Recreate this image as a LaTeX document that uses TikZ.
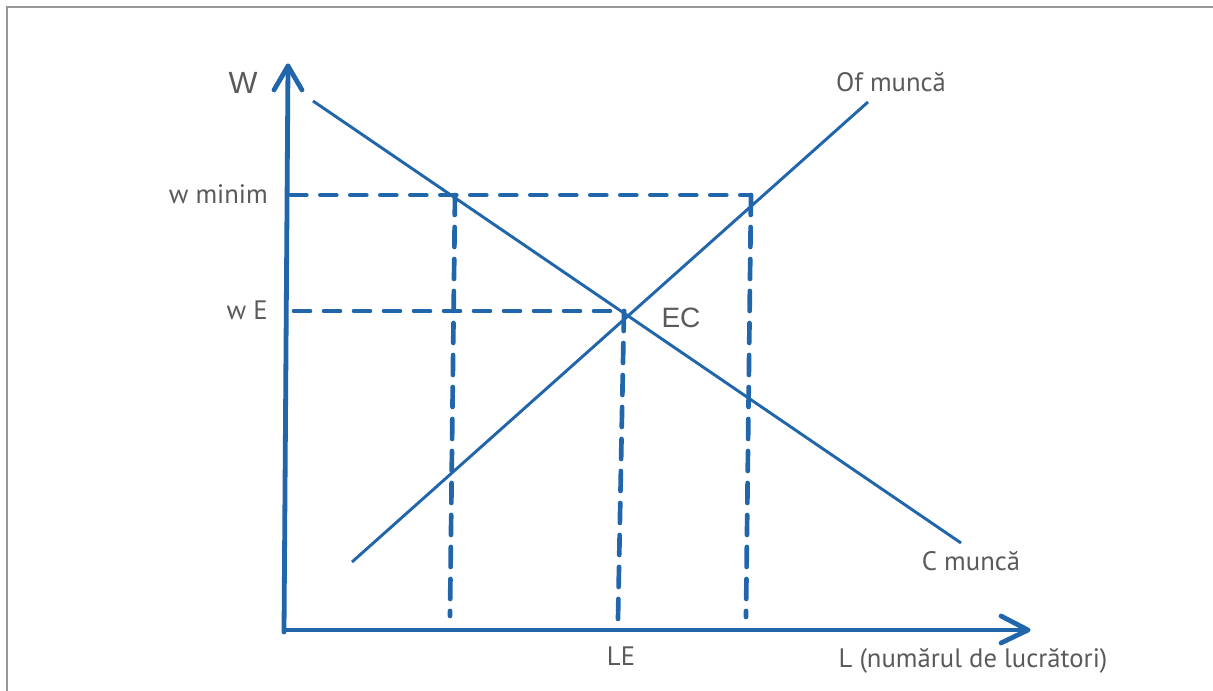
\documentclass[tikz,border=0pt]{standalone}
\usepackage{fontspec}
\setmainfont{PT Sans}
\newfontfamily\arialf{Liberation Sans}
\begin{document}
\begin{tikzpicture}[x=0.75pt,y=-0.75pt,
  ax/.style={draw=axblue,line width=3.6pt,line cap=round,line join=round},
  curve/.style={draw=axblue,line width=2.2pt},
  dsh/.style={draw=axblue,line width=3.5pt,line cap=round,dash pattern=on 12pt off 10.5pt},
  lbl/.style={text=txtgray,font=\fontsize{20}{24}\selectfont,inner sep=0pt}]
\definecolor{axblue}{RGB}{33,101,170}
\definecolor{txtgray}{RGB}{90,90,90}
\definecolor{framegray}{RGB}{150,150,150}
\useasboundingbox (0,0) rectangle (1213,691);
\draw[framegray,line width=1.5pt] (7,691) -- (7,7) -- (1213,7);
% coordinates
\coordinate (O) at (284,632);
\coordinate (Ytop) at (288,66);
\coordinate (Xend) at (1028,630);
\coordinate (Xst) at (285,630);
\coordinate (Ya) at (274,90);
\coordinate (Yb) at (302,90);
\coordinate (Xa) at (1001,616);
\coordinate (Xb) at (1001,643);
% demand and supply
\coordinate (D1) at (313,101);
\coordinate (D2) at (961,543);
\coordinate (S1) at (352,562);
\coordinate (S2) at (868,102);
\draw[curve] (D1) -- (D2);
\draw[curve] (S1) -- (S2);
% dashed
\coordinate (m0) at (289,195);
\coordinate (m1) at (455,195);
\coordinate (m2) at (751,195);
\coordinate (m1b) at (450,616);
\coordinate (m2b) at (746,617);
\coordinate (e0) at (294,311);
\coordinate (e1) at (624,311);
\coordinate (e1b) at (618,619);
\draw[dsh,dash phase=-1pt] (m0) -- (m2);
\draw[dsh,dash pattern=on 15pt off 9pt] (m2) -- (m2b);
\draw[dsh,dash pattern=on 15pt off 9pt] (m1) -- (m1b);
\draw[dsh] (e0) -- (e1);
\draw[dsh,dash pattern=on 15pt off 9pt] (e1) -- (e1b);
% axes
\draw[ax] (O) -- (Ytop);
\draw[ax] (Ya) -- (Ytop) -- (Yb);
\draw[ax] (Xst) -- (Xend);
\draw[ax] (Xa) -- (Xend) -- (Xb);
% labels
\node[lbl,font=\arialf\fontsize{23}{27}\selectfont] (lW) at (243,83) {W};
\node[lbl,anchor=east] (lwmin) at (268,194) {w minim};
\node[lbl,anchor=east] (lwE) at (268,310) {w E};
\node[lbl,font=\arialf\fontsize{21}{25}\selectfont] (lEC) at (681,318) {EC};
\node[lbl] (lOf) at (891,82) {Of muncă};
\node[lbl] (lC) at (971,561) {C muncă};
\node[lbl] (lLE) at (621,656) {LE};
\node[lbl] (lL) at (973,661) {L (numărul de lucrători)};
\end{tikzpicture}
\end{document}
